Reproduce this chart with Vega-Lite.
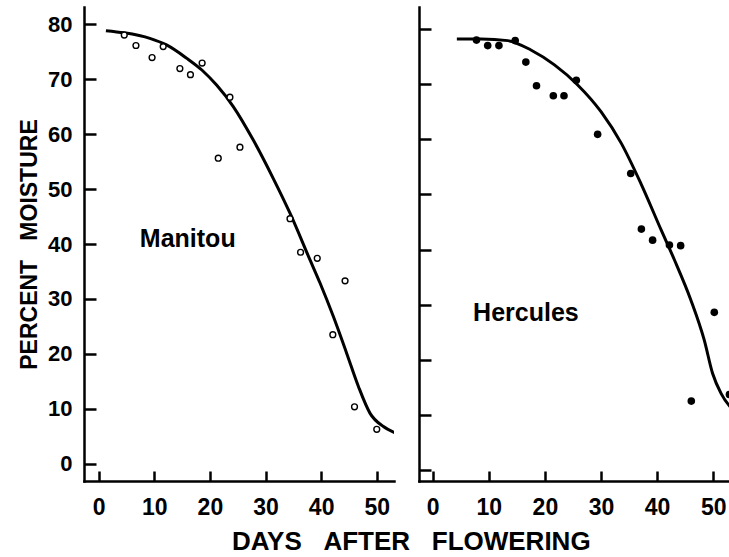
{
  "$schema": "https://vega.github.io/schema/vega-lite/v6.json",
  "background": "white",
  "padding": {"left": 18, "top": 7, "right": 0, "bottom": 0},
  "datasets": {
    "manitou_points": [
      {"day": 4.6, "moisture": 78.0}, {"day": 6.7, "moisture": 76.1}, {"day": 9.6, "moisture": 73.9},
      {"day": 11.6, "moisture": 75.9}, {"day": 14.6, "moisture": 71.9}, {"day": 16.5, "moisture": 70.8},
      {"day": 18.6, "moisture": 72.9}, {"day": 21.5, "moisture": 55.6}, {"day": 23.6, "moisture": 66.7},
      {"day": 25.4, "moisture": 57.6}, {"day": 34.4, "moisture": 44.6}, {"day": 36.3, "moisture": 38.5},
      {"day": 39.3, "moisture": 37.4}, {"day": 42.1, "moisture": 23.5}, {"day": 44.3, "moisture": 33.3},
      {"day": 46.0, "moisture": 10.4}, {"day": 50.0, "moisture": 6.3}
    ],
    "manitou_curve": [
      {"day": 1.3, "moisture": 78.8}, {"day": 4.6, "moisture": 78.4}, {"day": 9.2, "moisture": 77.4},
      {"day": 12.2, "moisture": 76.2}, {"day": 15.8, "moisture": 73.8}, {"day": 18.6, "moisture": 71.6},
      {"day": 21.2, "moisture": 68.9}, {"day": 24.2, "moisture": 65.0}, {"day": 27.8, "moisture": 58.9},
      {"day": 31.4, "moisture": 51.9}, {"day": 34.4, "moisture": 45.6}, {"day": 38.0, "moisture": 37.1},
      {"day": 39.8, "moisture": 32.9}, {"day": 42.2, "moisture": 26.8}, {"day": 44.6, "moisture": 20.1},
      {"day": 46.7, "moisture": 14.1}, {"day": 48.8, "moisture": 9.2}, {"day": 51.2, "moisture": 6.8},
      {"day": 53.2, "moisture": 5.7}
    ],
    "hercules_points": [
      {"day": 7.8, "moisture": 78.0}, {"day": 9.8, "moisture": 77.0}, {"day": 11.8, "moisture": 77.0},
      {"day": 14.7, "moisture": 77.9}, {"day": 16.6, "moisture": 74.0}, {"day": 18.5, "moisture": 69.7},
      {"day": 21.5, "moisture": 67.9}, {"day": 23.4, "moisture": 67.9}, {"day": 25.6, "moisture": 70.7},
      {"day": 29.4, "moisture": 60.9}, {"day": 35.3, "moisture": 53.8}, {"day": 37.2, "moisture": 43.7},
      {"day": 39.2, "moisture": 41.7}, {"day": 42.2, "moisture": 40.8}, {"day": 44.2, "moisture": 40.7},
      {"day": 46.1, "moisture": 12.5}, {"day": 50.2, "moisture": 28.6}, {"day": 52.9, "moisture": 13.7}
    ],
    "hercules_curve": [
      {"day": 4.3, "moisture": 78.2}, {"day": 8.6, "moisture": 78.2}, {"day": 13.4, "moisture": 77.9},
      {"day": 17.5, "moisture": 76.2}, {"day": 21.7, "moisture": 73.5}, {"day": 25.8, "moisture": 69.9},
      {"day": 30.0, "moisture": 65.0}, {"day": 33.6, "moisture": 59.3}, {"day": 37.1, "moisture": 52.0},
      {"day": 40.7, "moisture": 43.6}, {"day": 43.1, "moisture": 38.1}, {"day": 46.0, "moisture": 30.9},
      {"day": 48.4, "moisture": 23.6}, {"day": 49.9, "moisture": 17.5}, {"day": 51.4, "moisture": 13.9},
      {"day": 53.0, "moisture": 11.5}, {"day": 54.0, "moisture": 10.5}
    ]
  },
  "title": {
    "text": "DAYS\u00a0\u00a0\u00a0AFTER\u00a0\u00a0\u00a0FLOWERING",
    "orient": "bottom",
    "anchor": "middle",
    "font": "Liberation Sans",
    "fontWeight": "bold",
    "fontSize": 26,
    "color": "black",
    "offset": 10,
    "dx": 37
  },
  "hconcat": [
    {
      "width": 310,
      "height": 474,
      "layer": [
        {
          "data": {"name": "manitou_curve"},
          "mark": {"type": "line", "interpolate": "monotone", "color": "black", "strokeWidth": 3, "clip": true},
          "encoding": {
            "x": {
              "field": "day", "type": "quantitative",
              "scale": {"domain": [-2.64, 53.1], "nice": false, "zero": false},
              "axis": {
                "values": [0, 5, 10, 15, 20, 25, 30, 35, 40, 45, 50],
                "labelExpr": "datum.value % 10 === 0 ? datum.label : ''",
                "tickSize": {"condition": {"test": "datum.value % 10 === 0", "value": -10}, "value": -5},
                "labelPadding": 25,
                "labelFontSize": 23,
                "title": null
              }
            },
            "y": {
              "field": "moisture", "type": "quantitative",
              "scale": {"domain": [-3.1, 83.1], "nice": false, "zero": false},
              "axis": {
                "values": [0, 5, 10, 15, 20, 25, 30, 35, 40, 45, 50, 55, 60, 65, 70, 75, 80],
                "labelExpr": "datum.value % 10 === 0 ? datum.label : ''",
                "tickSize": {"condition": {"test": "datum.value % 10 === 0", "value": -12}, "value": -7},
                "labelPadding": 24,
                "title": "PERCENT\u00a0\u00a0\u00a0MOISTURE",
                "titleFont": "Liberation Sans",
                "titleFontWeight": "bold",
                "titleFontSize": 23,
                "titlePadding": 6
              }
            }
          }
        },
        {
          "data": {"name": "manitou_points"},
          "mark": {"type": "point", "shape": "circle", "filled": false, "stroke": "black", "fill": "white", "fillOpacity": 1, "opacity": 1, "strokeWidth": 1.4, "size": 34, "clip": true},
          "encoding": {
            "x": {"field": "day", "type": "quantitative"},
            "y": {"field": "moisture", "type": "quantitative"}
          }
        },
        {
          "data": {"values": [{"variety": "Manitou"}]},
          "mark": {"type": "text", "align": "left", "baseline": "alphabetic", "font": "Liberation Sans", "fontWeight": "bold", "fontSize": 25, "fill": "black"},
          "encoding": {
            "x": {"datum": 7.4, "type": "quantitative"},
            "y": {"datum": 39.5, "type": "quantitative"},
            "text": {"field": "variety", "type": "nominal"}
          }
        }
      ]
    },
    {
      "width": 311,
      "height": 474,
      "layer": [
        {
          "data": {"name": "hercules_curve"},
          "mark": {"type": "line", "interpolate": "monotone", "color": "black", "strokeWidth": 3, "clip": true},
          "encoding": {
            "x": {
              "field": "day", "type": "quantitative",
              "scale": {"domain": [-2.45, 53.0], "nice": false, "zero": false},
              "axis": {
                "values": [0, 5, 10, 15, 20, 25, 30, 35, 40, 45, 50],
                "labelExpr": "datum.value % 10 === 0 ? datum.label : ''",
                "tickSize": {"condition": {"test": "datum.value % 10 === 0", "value": -10}, "value": -5},
                "labelPadding": 25,
                "labelFontSize": 23,
                "title": null
              }
            },
            "y": {
              "field": "moisture", "type": "quantitative",
              "scale": {"domain": [-2.0, 84.0], "nice": false, "zero": false},
              "axis": {
                "values": [0, 5, 10, 15, 20, 25, 30, 35, 40, 45, 50, 55, 60, 65, 70, 75, 80],
                "labels": false,
                "tickSize": {"condition": {"test": "datum.value % 10 === 0", "value": -12}, "value": -7},
                "title": null
              }
            }
          }
        },
        {
          "data": {"name": "hercules_points"},
          "mark": {"type": "point", "shape": "circle", "filled": true, "color": "black", "opacity": 1, "size": 58, "clip": true},
          "encoding": {
            "x": {"field": "day", "type": "quantitative"},
            "y": {"field": "moisture", "type": "quantitative"}
          }
        },
        {
          "data": {"values": [{"variety": "Hercules"}]},
          "mark": {"type": "text", "align": "left", "baseline": "alphabetic", "font": "Liberation Sans", "fontWeight": "bold", "fontSize": 25, "fill": "black"},
          "encoding": {
            "x": {"datum": 7.2, "type": "quantitative"},
            "y": {"datum": 27.0, "type": "quantitative"},
            "text": {"field": "variety", "type": "nominal"}
          }
        }
      ]
    }
  ],
  "config": {
    "view": {"stroke": null},
    "concat": {"spacing": 23},
    "axis": {
      "grid": false,
      "domainColor": "black",
      "domainWidth": 2.5,
      "domainCap": "square",
      "tickColor": "black",
      "tickWidth": 2.5,
      "labelColor": "black",
      "labelFont": "Liberation Sans",
      "labelFontWeight": "bold",
      "labelFontSize": 22,
      "titleColor": "black"
    }
  }
}
